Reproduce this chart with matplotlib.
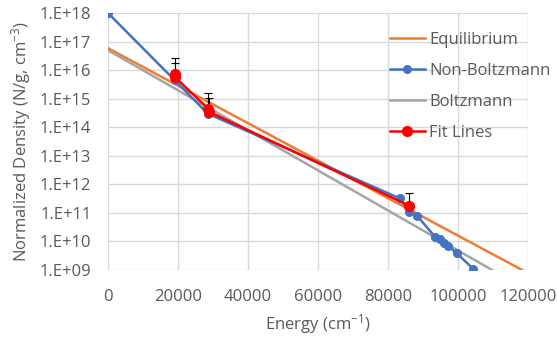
import numpy as np
import matplotlib.pyplot as plt
from matplotlib.ticker import FixedLocator, FuncFormatter

plt.rcParams['font.family'] = ['Open Sans', 'DejaVu Sans']
plt.rcParams['mathtext.default'] = 'regular'

# data
eq_energy = [0, 118300]
eq_density = [5.9e16, 1.0e9]

boltz_energy = [0, 109700]
boltz_density = [5.0e16, 1.0e9]

nb_energy = [0, 19000, 28500, 83400, 86000, 88300, 93500, 94800, 96000, 97100, 99700, 104300]
nb_density = [1e18, 4.5e15, 3.0e14, 3.2e11, 1.1e11, 8.0e10, 1.4e10, 1.2e10, 9.0e9, 7.0e9, 3.8e9, 1.1e9]

fit_energy = [19000, 19200, 28600, 28800, 86000]
fit_density = [7.2e15, 5.6e15, 4.5e14, 3.5e14, 1.8e11]
fit_err_up = [1.9e16, 1.25e16, 1.1e15, 7.0e14, 3.0e11]

y_ticks = [10.0**k for k in range(9, 19)]

txt = '#595959'
grid = '#d9d9d9'
fs = 12

fig = plt.figure(figsize=(5.57, 3.37), dpi=100)
ax = fig.add_axes([0.194, 0.199, 0.754, 0.762])

ax.plot(eq_energy, eq_density, color='#ED7D31', lw=1.8, label='Equilibrium', zorder=3)
ax.plot(nb_energy, nb_density, color='#4472C4', lw=1.8, marker='o', ms=5.5,
        label='Non-Boltzmann', zorder=4)
ax.plot(boltz_energy, boltz_density, color='#A5A5A5', lw=1.8, label='Boltzmann', zorder=3)
ax.errorbar(fit_energy, fit_density, yerr=[np.zeros(len(fit_err_up)), fit_err_up],
            fmt='none', ecolor='black', elinewidth=0.8, capsize=3, capthick=0.8, zorder=5)
ax.plot(fit_energy, fit_density, color='#FF0000', lw=1.8, marker='o', ms=7,
        label='Fit Lines', zorder=6)

ax.set_yscale('log')
ax.set_xlim(0, 120000)
ax.set_ylim(1e9, 1e18)
ax.yaxis.set_major_locator(FixedLocator(y_ticks))
ax.yaxis.set_minor_locator(FixedLocator([]))
ax.yaxis.set_major_formatter(FuncFormatter(lambda v, p: '1.E+%02d' % round(np.log10(v))))
ax.set_xticks(np.arange(0, 120001, 20000))

ax.grid(True, color=grid, lw=1)
ax.set_axisbelow(True)
for s in ax.spines.values():
    s.set_visible(False)
ax.tick_params(length=0, colors=txt, labelsize=fs)
ax.tick_params(axis='y', pad=12)
ax.tick_params(axis='x', pad=14)

ax.set_xlabel('Energy (cm$^{-1}$)', color=txt, fontsize=fs, labelpad=5)
ax.set_ylabel('Normalized Density (N/g, cm$^{-3}$)', color=txt, fontsize=fs, labelpad=5)

leg = ax.legend(loc='upper left', bbox_to_anchor=(0.70, 0.905),
                bbox_transform=fig.transFigure, frameon=False, fontsize=fs,
                labelspacing=0.9, handlelength=2.1, handletextpad=0.25, borderaxespad=0,
                borderpad=0)
for t in leg.get_texts():
    t.set_color(txt)

fig.savefig('out.png', dpi=100)
